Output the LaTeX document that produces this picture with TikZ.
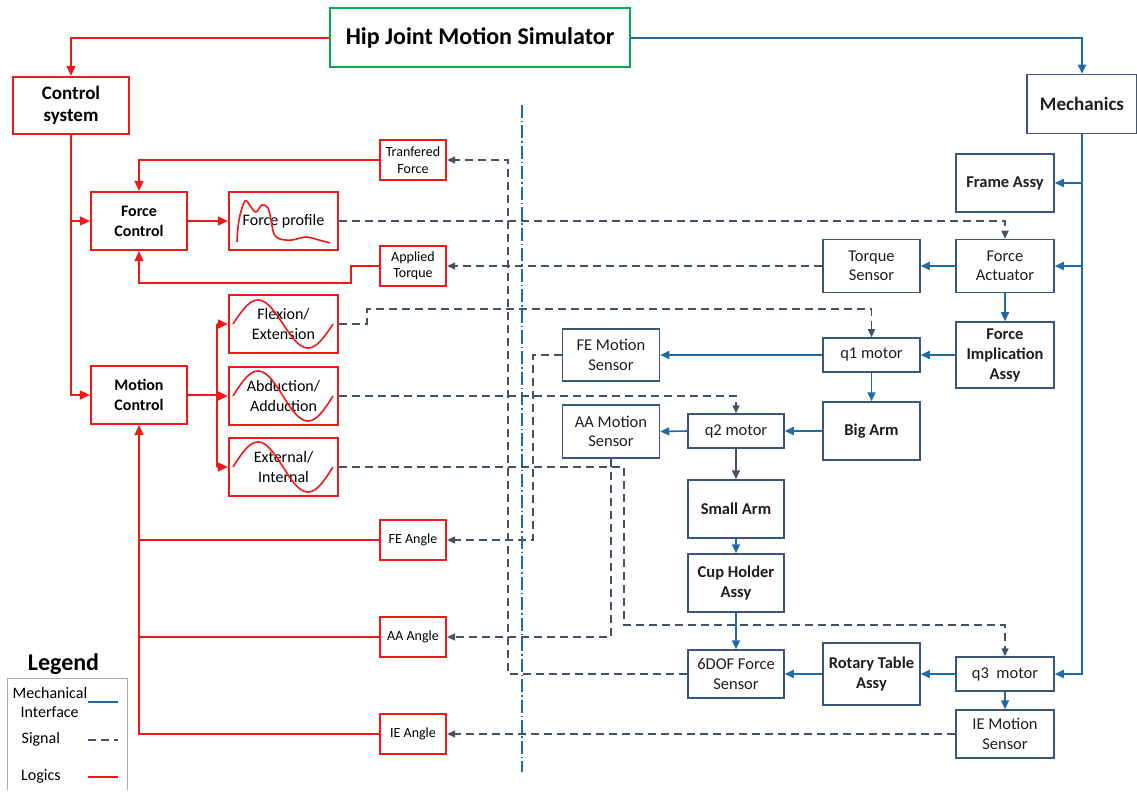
\documentclass[tikz,border=0pt]{standalone}
\usepackage{fontspec}
\setmainfont{Carlito}
\usetikzlibrary{arrows.meta}
\definecolor{redc}{RGB}{240,24,24}
\definecolor{bluec}{RGB}{31,108,166}
\definecolor{boxc}{RGB}{58,86,120}
\definecolor{sigc}{RGB}{68,82,104}
\definecolor{greenc}{RGB}{0,170,80}
\definecolor{txtc}{RGB}{30,30,30}
\definecolor{legc}{RGB}{170,170,170}
\tikzset{
  rbox/.style={draw=redc, line width=2.2pt, inner sep=0pt, align=center, text=black},
  bbox/.style={draw=boxc, line width=1.5pt, inner sep=0pt, align=center, text=txtc},
  rline/.style={draw=redc, line width=1.6pt},
  rarr/.style={rline, -{Triangle[length=10pt,width=9pt]}},
  bline/.style={draw=bluec, line width=1.6pt},
  barr/.style={bline, -{Triangle[length=9pt,width=8pt]}},
  sig/.style={draw=sigc, line width=1.5pt, dash pattern=on 8pt off 5pt},
  sarr/.style={sig, -{Triangle[length=8pt,width=7pt]}},
  wave/.style={draw=redc, line width=1.6pt},
  fbig/.style={font=\fontsize{19}{22.5}\selectfont\bfseries},
  fctlfont/.style={font=\fontsize{16}{20}\selectfont\bfseries},
  fmid/.style={font=\fontsize{16}{20}\selectfont},
  fsmall/.style={font=\fontsize{14}{16.5}\selectfont},
  fright/.style={font=\fontsize{16.5}{19.5}\selectfont},
  frightb/.style={font=\fontsize{16.5}{20}\selectfont\bfseries},
}
\begin{document}
\begin{tikzpicture}[x=1pt,y=-1pt]
\useasboundingbox (0,0) rectangle (1137,799);

% ---------- top ----------
\node[draw=greenc, line width=2pt, minimum width=300pt, minimum height=59pt, inner sep=0pt,
      font=\fontsize{24}{28}\selectfont\bfseries] (title) at (480,38) {Hip Joint Motion Simulator};
\node[rbox, fbig, minimum width=116pt, minimum height=57pt] (ctrl) at (71,105.5) {Control\\system};
\node[bbox, fbig, minimum width=110pt, minimum height=59pt] (mech) at (1082,104) {Mechanics};

% ---------- red (logic) boxes ----------
\node[rbox, fctlfont, minimum width=96pt, minimum height=58pt] (fctl) at (139,221) {Force\\Control};
\node[rbox, fmid, minimum width=109pt, minimum height=58pt] (fprof) at (283.5,221) {Force profile};
\node[rbox, fsmall, minimum width=66pt, minimum height=40pt] (tforce) at (413,160) {Tranfered\\Force};
\node[rbox, fsmall, minimum width=66pt, minimum height=40pt] (atorq) at (413,266) {Applied\\Torque};
\node[rbox, fctlfont, minimum width=96pt, minimum height=58pt] (mctl) at (139,395) {Motion\\Control};
\node[rbox, fmid, minimum width=109pt, minimum height=58pt] (flex) at (283.5,324) {Flexion/\\Extension};
\node[rbox, fmid, minimum width=109pt, minimum height=58pt] (abd) at (283.5,396) {Abduction/\\Adduction};
\node[rbox, fmid, minimum width=109pt, minimum height=58pt] (extr) at (283.5,467) {External/\\Internal};
\node[rbox, fsmall, minimum width=66pt, minimum height=40pt] (feang) at (413,540) {FE Angle};
\node[rbox, fsmall, minimum width=66pt, minimum height=40pt] (aaang) at (413,637) {AA Angle};
\node[rbox, fsmall, minimum width=66pt, minimum height=40pt] (ieang) at (413,734) {IE Angle};

% waves
\draw[wave] plot[domain=0:100, samples=60] ({233+\x},{324-24*sin(3.6*\x)});
\draw[wave] plot[domain=0:100, samples=60] ({233+\x},{396-25*sin(3.6*\x)});
\draw[wave] plot[domain=0:100, samples=60] ({233+\x},{467-25*sin(3.6*\x)});
\draw[wave] plot[smooth, tension=0.6] coordinates {(237,242) (239,220) (245,201) (251,207) (256,212) (262,205) (268,208) (271,220) (274,234) (280,239) (292,240) (306,237) (319,240) (330,243)};

% ---------- mechanical boxes ----------
\node[bbox, frightb, minimum width=98pt, minimum height=58pt] (frame) at (1005,183) {Frame Assy};
\node[bbox, fright, minimum width=98pt, minimum height=53pt] (fact) at (1005,266) {Force\\Actuator};
\node[bbox, fright, minimum width=97pt, minimum height=53pt] (tsens) at (871.5,266) {Torque\\Sensor};
\node[bbox, frightb, minimum width=98pt, minimum height=66pt] (fimp) at (1005,355) {Force\\Implication\\Assy};
\node[bbox, fright, minimum width=97pt, minimum height=34pt] (qone) at (871.5,355) {q1 motor};
\node[bbox, frightb, minimum width=97pt, minimum height=58pt] (bigarm) at (871.5,431) {Big Arm};
\node[bbox, fright, minimum width=97pt, minimum height=52pt] (fems) at (611,355) {FE Motion\\Sensor};
\node[bbox, fright, minimum width=97pt, minimum height=53pt] (aams) at (611,431.5) {AA Motion\\Sensor};
\node[bbox, fright, minimum width=96pt, minimum height=34pt] (qtwo) at (736,431) {q2 motor};
\node[bbox, frightb, minimum width=96pt, minimum height=58pt] (smarm) at (736,509) {Small Arm};
\node[bbox, frightb, minimum width=96pt, minimum height=58pt] (cuph) at (736,583) {Cup Holder\\Assy};
\node[bbox, fright, minimum width=96pt, minimum height=48pt] (sixdof) at (736,674) {6DOF Force\\Sensor};
\node[bbox, frightb, minimum width=97pt, minimum height=62pt] (rotab) at (871.5,674) {Rotary Table\\Assy};
\node[bbox, fright, minimum width=98pt, minimum height=34pt] (qthree) at (1005,674) {q3\ \ motor};
\node[bbox, fright, minimum width=98pt, minimum height=48pt] (iems) at (1005,734) {IE Motion\\Sensor};

% ---------- divider ----------
\coordinate (divtop) at (522,105);
\coordinate (divbot) at (522,772);
\draw[bluec, line width=1.1pt, dash pattern=on 13pt off 3pt on 1.5pt off 3pt] (divtop) -- (divbot);

% ---------- logic connectors ----------
\draw[rarr] (title.west) -| (ctrl.north);
\draw[rarr] (ctrl.south) |- (mctl.west);
\draw[rarr] (ctrl.south |- fctl.west) -- (fctl.west);
\draw[rarr] (tforce.west) -| (fctl.north);
\draw[rarr] (atorq.west) -- (351,266) -- (351,283) -| (fctl.south);
\draw[rarr] (fctl.east) -- (fprof.west);
\coordinate (mbr) at (217,395);
\draw[rline] (mctl.east) -- (mbr);
\draw[rline] (mbr |- flex.west) -- (mbr |- extr.west);
\draw[rarr] (mbr |- flex.west) -- (flex.west);
\draw[rarr] (mbr |- abd.west) -- (abd.west);
\draw[rarr] (mbr |- extr.west) -- (extr.west);
\draw[rline] (feang.west) -- (feang.west -| mctl.south);
\draw[rline] (aaang.west) -- (aaang.west -| mctl.south);
\draw[rarr] (ieang.west) -| (mctl.south);

% ---------- mechanical connectors ----------
\draw[barr] (title.east) -| (mech.north);
\draw[barr] (mech.south) |- (qthree.east);
\draw[barr] (mech.south |- frame.east) -- (frame.east);
\draw[barr] (mech.south |- fact.east) -- (fact.east);
\draw[barr] (fact.west) -- (tsens.east);
\draw[barr] (fact.south) -- (fimp.north);
\draw[barr] (fimp.west) -- (qone.east);
\draw[barr] (qone.west) -- (fems.east);
\draw[barr] (qone.south) -- (bigarm.north);
\draw[barr] (bigarm.west) -- (qtwo.east);
\draw[barr] (qtwo.west) -- (aams.east);
\draw[line width=1.6pt, draw=sigc, -{Triangle[length=9pt,width=8pt]}, fill=sigc] (qtwo.south) -- (smarm.north);
\draw[barr] (smarm.south) -- (cuph.north);
\draw[barr] (cuph.south) -- (sixdof.north);
\draw[barr] (rotab.west) -- (sixdof.east);
\draw[barr] (qthree.west) -- (rotab.east);
\draw[barr] (qthree.south) -- (iems.north);

% ---------- signal connectors ----------
\draw[sarr] (fprof.east) -| (fact.north);
\draw[sarr] (tsens.west) -- (tsens.west -| atorq.east);
\draw[sarr] (flex.east) -- (367,324) -- (367,309) -| (qone.north);
\draw[sarr] (abd.east) -| (qtwo.north);
\draw[sarr] (extr.east) -- (624,467) -- (624,625) -| (qthree.north);
\draw[sarr] (fems.west) -- (533,355) |- (feang.east);
\draw[sarr] (aams.south) |- (aaang.east);
\draw[sarr] (sixdof.west) -- (508,674) |- (tforce.east);
\draw[sarr] (iems.west) -- (iems.west -| ieang.east);

% ---------- legend ----------
\node[font=\fontsize{24}{28}\selectfont\bfseries] (legtitle) at (63.5,664) {Legend};
\draw[legc, line width=1pt] (7,790) -- (7,678) -- (127,678) -- (127,790);
\node[font=\fontsize{16}{19}\selectfont, anchor=west, inner sep=0pt] (legmech) at (12.5,693) {Mechanical};
\node[font=\fontsize{16}{19}\selectfont, anchor=west, inner sep=0pt] (legintf) at (20.5,712) {Interface};
\node[font=\fontsize{16}{19}\selectfont, anchor=west, inner sep=0pt] (legsig) at (21.5,739) {Signal};
\node[font=\fontsize{16}{19}\selectfont, anchor=west, inner sep=0pt] (leglog) at (21,776) {Logics};
\coordinate (lm1) at (88,702); \coordinate (lm2) at (118,702);
\coordinate (ls1) at (88,740); \coordinate (ls2) at (118,740);
\coordinate (ll1) at (88,777); \coordinate (ll2) at (118,777);
\draw[bline] (lm1) -- (lm2);
\draw[sig] (ls1) -- (ls2);
\draw[rline] (ll1) -- (ll2);
\end{tikzpicture}
\end{document}
